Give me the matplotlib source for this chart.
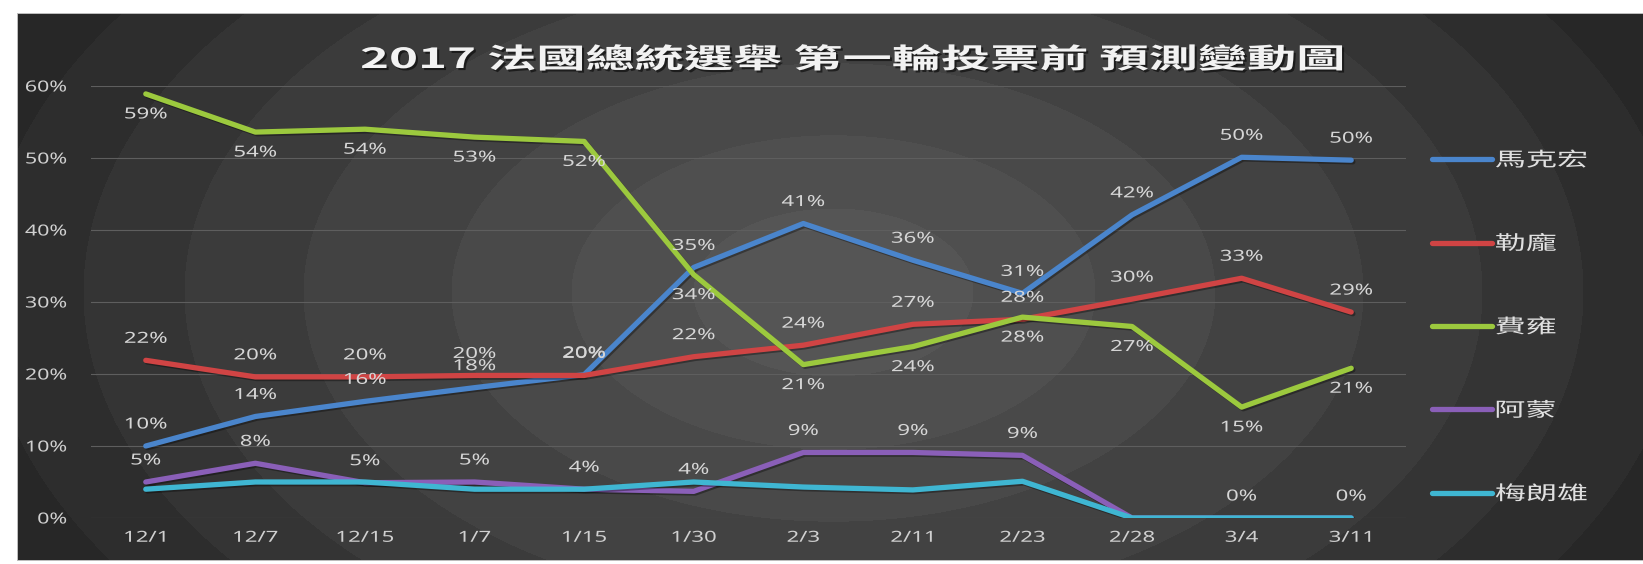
import numpy as np
import matplotlib
matplotlib.use("Agg")
import matplotlib.pyplot as plt
import matplotlib.colors as mcolors
from matplotlib.patheffects import AbstractPathEffect, SimpleLineShadow, Normal
from matplotlib.transforms import Affine2D
from matplotlib.path import Path

# ---------------- data ----------------
dates = ["12/1", "12/7", "12/15", "1/7", "1/15", "1/30", "2/3", "2/11", "2/23", "2/28", "3/4", "3/11"]
names = ["馬克宏", "勒龐", "費雍", "阿蒙", "梅朗雄"]
macron = [0.100, 0.141, 0.162, 0.181, 0.199, 0.348, 0.409, 0.358, 0.312, 0.421, 0.501, 0.497]
lepen = [0.219, 0.196, 0.196, 0.198, 0.198, 0.224, 0.240, 0.269, 0.276, 0.304, 0.333, 0.286]
fillon = [0.589, 0.536, 0.540, 0.529, 0.523, 0.338, 0.213, 0.238, 0.279, 0.266, 0.154, 0.208]
hamon = [0.050, 0.076, 0.049, 0.050, 0.040, 0.037, 0.091, 0.091, 0.087, 0.0, 0.0, 0.0]
melenchon = [0.040, 0.050, 0.050, 0.040, 0.040, 0.050, 0.043, 0.039, 0.051, 0.0, 0.0, 0.0]
series = [macron, lepen, fillon, hamon, melenchon]
colors = ["#4a85cc", "#d04444", "#9cc93e", "#8a5fb8", "#3fb6d2"]
# which points carry a value label, and where (+1 above, -1 below)
label_idx = [list(range(12)), list(range(12)), list(range(12)), list(range(9)), [10, 11]]
label_side = [1, 1, -1, 1, 1]
title = "2017 法國總統選舉 第一輪投票前 預測變動圖"


class StretchText(AbstractPathEffect):
    """Draw text glyph paths stretched horizontally (the reference is a widened screenshot)."""

    def __init__(self, sx, anchor="center", offset=(0, 0), shadow=None, alpha=1.0):
        super().__init__(offset)
        self.sx = sx
        self.anchor = anchor
        self.shadow = shadow
        self.alpha = alpha

    def draw_path(self, renderer, gc, tpath, affine, rgbFace=None):
        v = tpath.vertices
        if tpath.codes is not None:
            m = (tpath.codes != Path.CLOSEPOLY) & (tpath.codes != Path.STOP)
            v = v[m]
        if len(v) == 0:
            return
        pts = affine.transform(v)
        xmin, xmax = pts[:, 0].min(), pts[:, 0].max()
        if self.anchor == "left":
            x0 = xmin
        elif self.anchor == "right":
            x0 = xmax
        else:
            x0 = 0.5 * (xmin + xmax)
        t = affine + Affine2D().translate(-x0, 0).scale(self.sx, 1).translate(x0, 0)
        t = t + self._offset_transform(renderer)
        if self.shadow is not None:
            gc0 = renderer.new_gc()
            gc0.copy_properties(gc)
            gc0.set_alpha(self.alpha)
            renderer.draw_path(gc0, tpath, t, mcolors.to_rgba(self.shadow))
            gc0.restore()
        else:
            renderer.draw_path(gc, tpath, t, rgbFace)


W, H = 1643, 564
fig = plt.figure(figsize=(W / 100, H / 100), dpi=100, facecolor="white")

# ---------------- background: banded radial gradient ----------------
px0, py0, px1, py1 = 17, 13, 1643, 561
yy, xx = np.mgrid[0:H, 0:W]
r = np.sqrt((xx - 833.0) ** 2 + ((yy - 292.0) / 0.6) ** 2)
bounds = [140, 262, 382, 530, 649, 750, 850]
shades = ["#555555", "#4f4f4f", "#494949", "#424242", "#3b3b3b", "#343434", "#2d2d2d", "#272727"]
idx = np.digitize(r, bounds)
pal = np.array([mcolors.to_rgb(c) for c in shades])
img = pal[idx]
inside = (xx >= px0) & (xx < px1) & (yy >= py0) & (yy < py1)
img[~inside] = 1.0
edge = inside & ((xx == px0) | (yy == py0) | (yy == py1 - 1))
img[edge] = mcolors.to_rgb("#bdbdbd")
fig.figimage(img, 0, 0, origin="upper", zorder=-10)

# ---------------- axes ----------------
ax = fig.add_axes([91 / W, 1 - 518 / H, (1406 - 91) / W, (518 - 86) / H])
ax.set_facecolor("none")
ax.set_xlim(-0.5, 11.5)
ax.set_ylim(0, 0.6)
for s in ax.spines.values():
    s.set_visible(False)
ax.set_yticks(np.arange(0, 0.61, 0.1))
ax.set_yticklabels([f"{int(round(t * 100))}%" for t in np.arange(0, 0.61, 0.1)])
ax.set_xticks(range(len(dates)), labels=dates)
ax.tick_params(axis="both", length=0, colors="#d0d0d0", labelsize=11)
ax.tick_params(axis="x", pad=9.2)
ax.tick_params(axis="y", pad=17.3)
ax.grid(axis="y", color="#5e5e5e", linewidth=0.8)
ax.set_axisbelow(True)
for lab in ax.get_xticklabels():
    lab.set_family(["Noto Sans", "DejaVu Sans"])
    lab.set_path_effects([StretchText(1.45, "center")])
for lab in ax.get_yticklabels():
    lab.set_family(["Noto Sans", "DejaVu Sans"])
    lab.set_path_effects([StretchText(1.4, "right")])

x = np.arange(len(dates))
handles = []
for vals, col, name in zip(series, colors, names):
    ln, = ax.plot(x, vals, color=col, linewidth=3.8, solid_capstyle="round",
                  solid_joinstyle="round", label=name,
                  path_effects=[SimpleLineShadow(offset=(1.2, -1.2), shadow_color="black", alpha=0.35),
                                Normal()])
    handles.append(ln)

for vals, idxs, side in zip(series, label_idx, label_side):
    for i in idxs:
        ax.annotate(f"{vals[i] * 100:.0f}%", (x[i], vals[i]), xytext=(0, 21 * side),
                    textcoords="offset pixels", ha="center", va="center",
                    fontsize=11, color="#d6d6d6", family=["Noto Sans", "DejaVu Sans"],
                    path_effects=[StretchText(1.45, "center")], zorder=5)

# ---------------- title ----------------
fig.text(852 / W, 1 - 60 / H, title, ha="center", va="center", fontsize=20, fontweight="bold",
         color="#f2f2f2", family=["Noto Sans CJK TC", "DejaVu Sans"],
         path_effects=[StretchText(1.77, "center", offset=(1.5, -1.5), shadow="black", alpha=0.55),
                       StretchText(1.77, "center")])

# ---------------- legend ----------------
leg = ax.legend(handles=handles, labels=names, loc="upper left",
                bbox_to_anchor=(1432 / W, 1 - 150 / H), bbox_transform=fig.transFigure,
                frameon=False, handlelength=3.1, handletextpad=0.15,
                labelspacing=3.21, borderpad=0, borderaxespad=0,
                prop={"family": ["Noto Sans CJK TC", "DejaVu Sans"], "size": 14})
for t in leg.get_texts():
    t.set_color("#e0e0e0")
    t.set_path_effects([StretchText(1.6, "left")])
for lh in leg.legend_handles:
    lh.set_linewidth(3.8)
    lh.set_path_effects([Normal()])

fig.savefig("out.png", dpi=100, facecolor="white")
